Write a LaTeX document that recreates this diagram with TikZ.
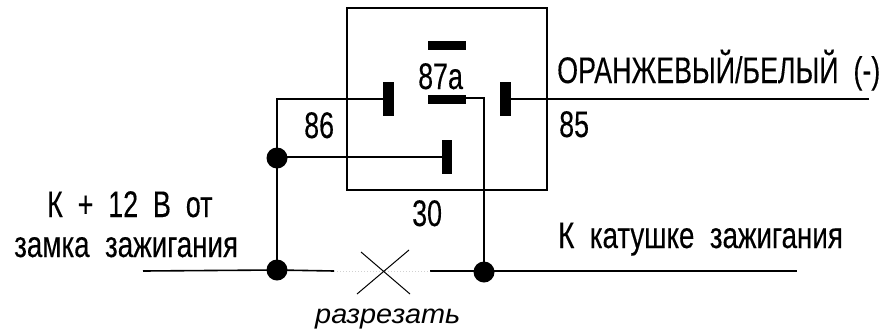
\documentclass[tikz,border=0pt]{standalone}
\usepackage{fontspec}
\setmainfont[FakeStretch=0.75,WordSpace=2,FakeBold=0.25]{Liberation Sans}
\newfontfamily\capsfont[FakeStretch=0.725,WordSpace=2,FakeBold=0.25]{Liberation Sans}
\newfontfamily\lblit[FakeStretch=1.07,ItalicFont={Liberation Sans Italic}]{Liberation Sans}
\tikzset{
  wire/.style={line width=1.6pt,black},
  thinwire/.style={line width=1.2pt,black},
  vbar/.style={fill=black,inner sep=0pt,minimum width=10.5pt,minimum height=34pt},
  hbar/.style={fill=black,inner sep=0pt,minimum width=38pt,minimum height=9pt},
  dot/.style={circle,fill=black,inner sep=0pt,minimum size=21pt},
  lbl/.style={inner sep=0pt,font=\fontsize{37}{37}\selectfont,anchor=base west},
  capslbl/.style={inner sep=0pt,font=\capsfont\fontsize{37}{37}\selectfont,anchor=base west},
  boxframe/.style={draw=black,line width=1.6pt,inner sep=0pt,minimum width=200pt,minimum height=182pt}
}
\begin{document}
\begin{tikzpicture}[x=1pt,y=-1pt]
\useasboundingbox (0,0) rectangle (888,335);
% relay frame
\node[boxframe] (frame) at (447,99) {};
% contacts
\node[hbar] (top) at (447,45.5) {};
\node[hbar] (a87) at (447,99.5) {};
\node[vbar] (c86) at (388.5,99) {};
\node[vbar] (c85) at (505.5,99) {};
\node[vbar] (c30) at (447,157) {};
% junctions
\node[dot] (j1) at (277,158) {};
\node[dot] (j2) at (277,270) {};
\node[dot] (j3) at (484,272) {};
% free ends
\coordinate (k86) at (277,99);
\coordinate (k87) at (484,98);
\coordinate (e85) at (869,99);
\coordinate (wl) at (143,271);
\coordinate (cutl) at (334,271);
\coordinate (cutr) at (430,271);
\coordinate (wr) at (797,271);
\coordinate (xa) at (361,252);
\coordinate (xb) at (410,294);
\coordinate (xc) at (409,250);
\coordinate (xd) at (357,294);
% connectors
\draw[wire] (c86.west) -- (k86) -- (j1.center) -- (j2.center);
\draw[wire] (j1.center) -- (j1.center |- c30) -- (c30.west);
\draw[wire] (c85.east) -- (e85);
\draw[thinwire] (a87.east |- k87) -- (k87) -- (j3.center);
\draw[wire] (wl) -- (j2.center) -- (cutl);
\draw[wire] (cutr) -- (j3.center |- wr) -- (wr);
\draw[black!18,line width=1pt,dotted] (cutl) -- (cutr);
\draw[thinwire,line width=1pt] (xa) -- (xb);
\draw[thinwire,line width=1pt] (xc) -- (xd);
% labels
\node[capslbl] (t87a) at (418,89) {87a};
\node[capslbl] (t86) at (304,138) {86};
\node[capslbl] (t85) at (559,137) {85};
\node[capslbl] (t30) at (412,226) {30};
\node[capslbl] (tor) at (557,83) {ОРАНЖЕВЫЙ/БЕЛЫЙ (-)};
\node[lbl] (tk) at (558,248) {К катушке зажигания};
\node[capslbl] (tplus) at (47,217) {К + 12 В от};
\node[lbl] (tz) at (14,257) {замка зажигания};
\node[inner sep=0pt,anchor=base west,font=\lblit\itshape\fontsize{27}{27}\selectfont] (tcut) at (315,323) {разрезать};
\end{tikzpicture}
\end{document}
